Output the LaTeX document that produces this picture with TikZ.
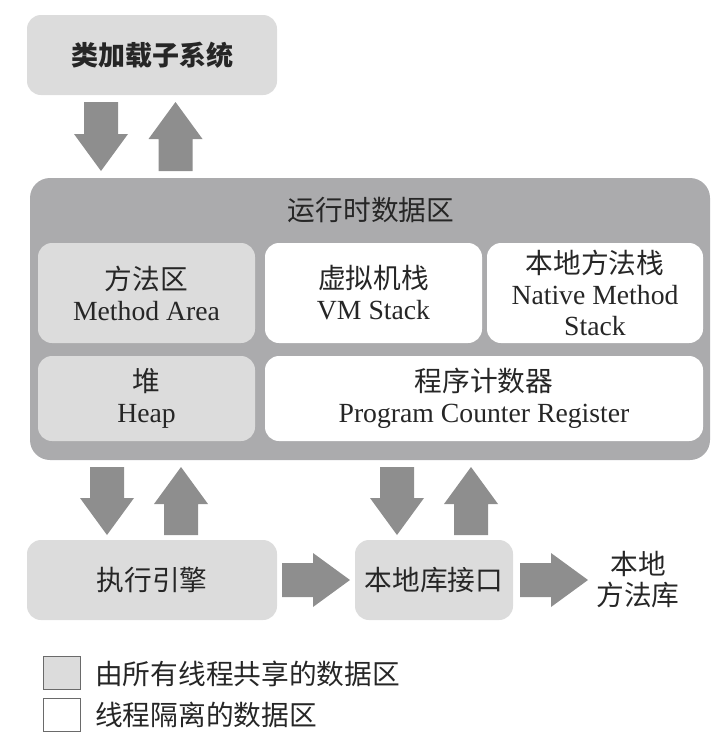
\documentclass[tikz,border=0pt]{standalone}
\usepackage{fontspec}
\setmainfont{Liberation Serif}
\newfontfamily\cjk{Noto Sans CJK SC}
\definecolor{lightbox}{HTML}{DCDCDC}
\definecolor{midbox}{HTML}{ABABAD}
\definecolor{arrowgray}{HTML}{8E8E8E}
\definecolor{txt}{HTML}{262626}
\definecolor{legendline}{HTML}{6A6A6A}
\newcommand\arrDown[3]{\fill[arrowgray] (#1-17,#2) -- (#1+17,#2) -- (#1+17,#3-37) -- (#1+27,#3-37) -- (#1,#3) -- (#1-27,#3-37) -- (#1-17,#3-37) -- cycle;}
\newcommand\arrUp[3]{\fill[arrowgray] (#1-17,#3) -- (#1+17,#3) -- (#1+17,#2+37) -- (#1+27,#2+37) -- (#1,#2) -- (#1-27,#2+37) -- (#1-17,#2+37) -- cycle;}
\newcommand\arrRight[3]{\fill[arrowgray] (#1,#3-17) -- (#1,#3+17) -- (#2-37,#3+17) -- (#2-37,#3+27) -- (#2,#3) -- (#2-37,#3-27) -- (#2-37,#3-17) -- cycle;}
\begin{document}
\begin{tikzpicture}[x=1pt,y=-1pt,
  every node/.style={text=txt, font=\fontsize{27.7}{31}\selectfont, align=center, inner sep=0pt},
  sharedbox/.style={fill=lightbox, rounded corners=14pt},
  privbox/.style={fill=white, rounded corners=14pt},
  legendbox/.style={draw=legendline, line width=1.5pt, minimum width=37pt, minimum height=33pt}]
\useasboundingbox (0,0) rectangle (722,739);
% class loader
\node[sharedbox, minimum width=250pt, minimum height=80pt, font=\fontsize{27}{31}\selectfont] (loader) at (152,55) {\cjk\bfseries 类加载子系统};
% runtime data area
\node[fill=midbox, rounded corners=20pt, minimum width=680pt, minimum height=282pt] (runtime) at (370,319) {};
\node (rtitle) at (371,210) {\cjk 运行时数据区};
\node[sharedbox, minimum width=217pt, minimum height=100pt] (method) at (146.5,293) {{\cjk 方法区}\\Method Area};
\node[privbox, minimum width=217pt, minimum height=100pt] (vmstack) at (373.5,293) {{\cjk 虚拟机栈}\\VM Stack};
\node[privbox, minimum width=216pt, minimum height=100pt] (nstack) at (595,293) {{\cjk 本地方法栈}\\Native Method\\Stack};
\node[sharedbox, minimum width=217pt, minimum height=85pt] (heap) at (146.5,398.5) {{\cjk 堆}\\Heap};
\node[privbox, minimum width=438pt, minimum height=85pt] (pc) at (484,398.5) {{\cjk 程序计数器}\\Program Counter Register};
% bottom row
\node[sharedbox, minimum width=250pt, minimum height=80pt] (engine) at (152,580) {\cjk 执行引擎};
\node[sharedbox, minimum width=158pt, minimum height=80pt] (nif) at (434,580) {\cjk 本地库接口};
\node (nlib) at (638,580) {\cjk 本地\\\cjk 方法库};
% block arrows
\arrDown{101}{102}{171}
\arrUp{175.5}{102}{171}
\arrDown{107}{467}{535}
\arrUp{181}{467}{535}
\arrDown{397}{467}{535}
\arrUp{471}{467}{535}
\arrRight{282}{350}{580}
\arrRight{520}{588}{580}
% legend
\node[legendbox, fill=lightbox] (lgshared) at (62,673) {};
\node[legendbox, fill=white] (lgpriv) at (62,715) {};
\node[anchor=west] (lgsharedtxt) at (95,674) {\cjk 由所有线程共享的数据区};
\node[anchor=west] (lgprivtxt) at (95,715) {\cjk 线程隔离的数据区};
\end{tikzpicture}
\end{document}
